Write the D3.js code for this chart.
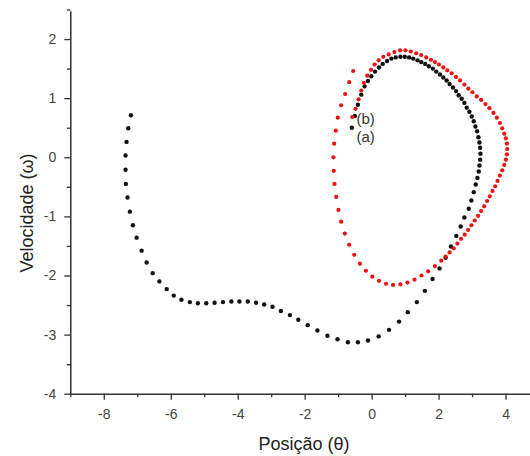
<!DOCTYPE html>
<html>
<head>
<meta charset="utf-8">
<title>Velocidade x Posição</title>
<style>
body {margin: 0; background: #fff;}
#chart text {font-family: "Liberation Sans", Arial, sans-serif;}
</style>
</head>
<body>
<div id="chart"></div>
<script src="https://d3js.org/d3.v7.min.js"></script>
<script>
// tick values
var xTicks = [-8, -6, -4, -2, 0, 2, 4];
var xMinor = [-9, -7, -5, -3, -1, 1, 3];
var yTicks = [-4, -3, -2, -1, 0, 1, 2];
var yMinor = [-3.5, -2.5, -1.5, -0.5, 0.5, 1.5, 2.5];

// curve (a), black: [posicao, velocidade]
var curveA = [
  [-7.19, 0.71], [-7.27, 0.49], [-7.32, 0.26], [-7.35, 0.03], [-7.35, -0.21], [-7.34, -0.45],
  [-7.29, -0.68], [-7.22, -0.92], [-7.13, -1.15], [-7.02, -1.36], [-6.87, -1.58], [-6.72, -1.78],
  [-6.54, -1.96], [-6.34, -2.10], [-6.12, -2.23], [-5.91, -2.34], [-5.68, -2.41], [-5.43, -2.45],
  [-5.19, -2.47], [-4.94, -2.47], [-4.69, -2.46], [-4.44, -2.45], [-4.19, -2.44], [-3.95, -2.44],
  [-3.70, -2.44], [-3.45, -2.46], [-3.21, -2.49], [-2.96, -2.53], [-2.71, -2.60], [-2.44, -2.67],
  [-2.19, -2.75], [-1.91, -2.84], [-1.62, -2.93], [-1.32, -3.02], [-1.02, -3.08], [-0.71, -3.13],
  [-0.41, -3.13], [-0.11, -3.10], [0.21, -3.03], [0.52, -2.92], [0.82, -2.78], [1.08, -2.62],
  [1.35, -2.45], [1.59, -2.26], [1.82, -2.06], [2.03, -1.88], [2.21, -1.70], [2.37, -1.51],
  [2.53, -1.33], [2.66, -1.17], [2.77, -1.02], [2.90, -0.87], [2.98, -0.73], [3.05, -0.59],
  [3.11, -0.46], [3.16, -0.35], [3.20, -0.24], [3.22, -0.14], [3.24, -0.04], [3.25, 0.06],
  [3.24, 0.16], [3.22, 0.25], [3.19, 0.34], [3.15, 0.44], [3.10, 0.52], [3.05, 0.61],
  [2.99, 0.69], [2.92, 0.77], [2.84, 0.84], [2.77, 0.92], [2.69, 0.99], [2.60, 1.05],
  [2.52, 1.12], [2.43, 1.18], [2.33, 1.24], [2.24, 1.30], [2.14, 1.35], [2.04, 1.40],
  [1.93, 1.45], [1.83, 1.50], [1.71, 1.54], [1.60, 1.58], [1.48, 1.61], [1.37, 1.64],
  [1.24, 1.67], [1.12, 1.69], [0.99, 1.70], [0.86, 1.70], [0.72, 1.69], [0.59, 1.67],
  [0.46, 1.63], [0.33, 1.58], [0.22, 1.52], [0.10, 1.45], [-0.01, 1.37], [-0.11, 1.29],
  [-0.21, 1.20], [-0.31, 1.06], [-0.41, 0.89], [-0.50, 0.70], [-0.59, 0.50]
];

// curve (b), red
var curveB = [
  [-0.55, 1.46], [-0.67, 1.27], [-0.79, 1.07], [-0.91, 0.88], [-1.01, 0.67], [-1.07, 0.45],
  [-1.12, 0.23], [-1.14, 0.00], [-1.13, -0.23], [-1.11, -0.45], [-1.06, -0.67], [-0.99, -0.89],
  [-0.91, -1.09], [-0.80, -1.29], [-0.67, -1.48], [-0.52, -1.65], [-0.35, -1.80], [-0.17, -1.92],
  [0.02, -2.02], [0.22, -2.09], [0.43, -2.14], [0.64, -2.16], [0.86, -2.15], [1.07, -2.12],
  [1.28, -2.07], [1.49, -2.00], [1.69, -1.93], [1.89, -1.84], [2.08, -1.75], [2.21, -1.68],
  [2.33, -1.61], [2.45, -1.54], [2.56, -1.46], [2.67, -1.38], [2.78, -1.31], [2.88, -1.23],
  [2.98, -1.15], [3.08, -1.07], [3.18, -0.99], [3.27, -0.91], [3.36, -0.83], [3.45, -0.74],
  [3.53, -0.66], [3.61, -0.57], [3.69, -0.49], [3.76, -0.40], [3.83, -0.31], [3.90, -0.22],
  [3.96, -0.13], [4.01, -0.04], [4.04, 0.05], [4.05, 0.14], [4.04, 0.23], [4.01, 0.32],
  [3.96, 0.40], [3.90, 0.49], [3.83, 0.58], [3.74, 0.67], [3.64, 0.75],
  [3.52, 0.83], [3.40, 0.90], [3.27, 0.97], [3.14, 1.03], [3.01, 1.10], [2.89, 1.16],
  [2.77, 1.23], [2.64, 1.30], [2.52, 1.36], [2.39, 1.42], [2.26, 1.47], [2.14, 1.52],
  [2.01, 1.57], [1.89, 1.61], [1.77, 1.65], [1.63, 1.69], [1.48, 1.73], [1.33, 1.76],
  [1.17, 1.79], [1.01, 1.81], [0.85, 1.81], [0.68, 1.78], [0.51, 1.74], [0.35, 1.70],
  [0.21, 1.64], [0.09, 1.57], [-0.02, 1.48], [-0.13, 1.38], [-0.23, 1.26], [-0.31, 1.13],
  [-0.39, 0.98], [-0.48, 0.82], [-0.58, 0.68]
];

var W = 530, H = 456;
var margin = {top: 10.7, right: 0, bottom: 62.3, left: 70.3};

var svg = d3.select("#chart")
  .append("svg")
  .attr("width", W)
  .attr("height", H);

var x = d3.scaleLinear().domain([-9, 4.73]).range([margin.left, W - margin.right]);
var y = d3.scaleLinear().domain([-4, 2.48]).range([H - margin.bottom, margin.top]);

var axisColor = "#333";

// x axis
svg.append("g")
  .attr("transform", "translate(0," + (H - margin.bottom) + ")")
  .call(d3.axisBottom(x).tickValues(xTicks).tickSizeInner(6).tickSizeOuter(0)
    .tickPadding(9).tickFormat(function(d) { return String(d); }));
svg.append("g")
  .attr("transform", "translate(0," + (H - margin.bottom) + ")")
  .call(d3.axisBottom(x).tickValues(xMinor).tickSize(3.5).tickFormat(""))
  .call(function(g) { g.select(".domain").remove(); });

// y axis
svg.append("g")
  .attr("transform", "translate(" + margin.left + ",0)")
  .call(d3.axisLeft(y).tickValues(yTicks).tickSizeInner(6).tickSizeOuter(0)
    .tickPadding(8).tickFormat(function(d) { return String(d); }));
svg.append("g")
  .attr("transform", "translate(" + margin.left + ",0)")
  .call(d3.axisLeft(y).tickValues(yMinor).tickSize(3.5).tickFormat(""))
  .call(function(g) { g.select(".domain").remove(); });

svg.selectAll(".domain").attr("stroke", axisColor).attr("stroke-width", 1.5);
svg.selectAll(".tick line").attr("stroke", axisColor).attr("stroke-width", 1.3);
svg.selectAll(".tick text").attr("fill", "#444").style("font-size", "14px");

// axis titles
svg.append("text")
  .attr("x", 304)
  .attr("y", 450)
  .attr("text-anchor", "middle")
  .attr("fill", "#222")
  .style("font-size", "18px")
  .text("Posição (θ)");

svg.append("text")
  .attr("transform", "translate(33,213) rotate(-90)")
  .attr("text-anchor", "middle")
  .attr("fill", "#222")
  .style("font-size", "18px")
  .text("Velocidade (ω)");

// points
svg.append("g").selectAll("circle")
  .data(curveA)
  .join("circle")
  .attr("cx", function(d) { return x(d[0]); })
  .attr("cy", function(d) { return y(d[1]); })
  .attr("r", 2.2)
  .attr("fill", "#111");

svg.append("g").selectAll("circle")
  .data(curveB)
  .join("circle")
  .attr("cx", function(d) { return x(d[0]); })
  .attr("cy", function(d) { return y(d[1]); })
  .attr("r", 2.1)
  .attr("fill", "#ee1111");

// curve labels
svg.append("text")
  .attr("x", 356.5).attr("y", 123.5)
  .attr("fill", "#333").style("font-size", "15px")
  .text("(b)");
svg.append("text")
  .attr("x", 356.5).attr("y", 141.5)
  .attr("fill", "#333").style("font-size", "15px")
  .text("(a)");
</script>
</body>
</html>
